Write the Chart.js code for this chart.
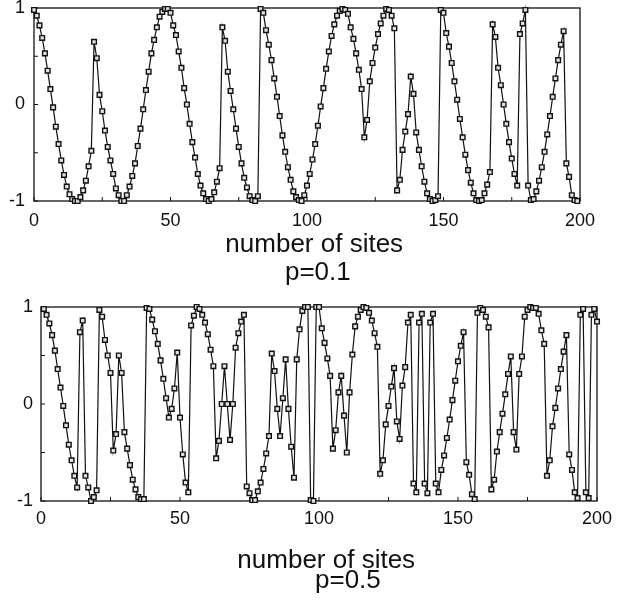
<!DOCTYPE html>
<html>
<head>
<meta charset="utf-8">
<script src="https://cdn.jsdelivr.net/npm/chart.js@4.4.1/dist/chart.umd.min.js"></script>
<style>
  html, body { margin: 0; padding: 0; background: #fff; }
  #wrap { position: relative; width: 625px; height: 605px; }
  canvas { position: absolute; left: 0; }
  #topChart { top: 0; }
  #bottomChart { top: 290px; }
</style>
</head>
<body>
<div id="wrap">
  <canvas id="topChart" width="625" height="290"></canvas>
  <canvas id="bottomChart" width="625" height="315"></canvas>
</div>
<script>
// axis marks
const xLabelTicks = [0, 50, 100, 150, 200];
const xMarks = [0, 25, 50, 75, 100, 125, 150, 175, 200];
const yLabelTicks = [-1, 0, 1];
const yMarks = [-1, -0.5, 0, 0.5, 1];

// p=0.1 panel, sites 0..199
const topFirstSite = 0;
const topValues = [
  0.98, 0.92, 0.82, 0.69, 0.53, 0.35, 0.16, -0.03, -0.23, -0.41,
  -0.58, -0.73, -0.85, -0.93, -0.98, -1.0, -1.0, -0.96, -0.89, -0.79,
  -0.64, -0.48, 0.65, 0.48, 0.10, -0.07, -0.27, -0.44, -0.58, -0.72,
  -0.87, -0.94, -1.0, -1.0, -0.94, -0.85, -0.74, -0.61, -0.43, -0.25,
  -0.05, 0.15, 0.34, 0.53, 0.67, 0.80, 0.91, 0.96, 0.99, 0.99,
  0.95, 0.82, 0.72, 0.55, 0.38, 0.17, 0.00, -0.20, -0.39, -0.55,
  -0.72, -0.84, -0.92, -0.98, -1.0, -0.98, -0.91, -0.80, -0.66, 0.80,
  0.66, 0.34, 0.14, -0.05, -0.25, -0.44, -0.61, -0.76, -0.86, -0.95,
  -0.99, -1.0, -0.95, 0.99, 0.95, 0.77, 0.62, 0.46, 0.27, 0.08,
  -0.12, -0.32, -0.49, -0.65, -0.78, -0.90, -0.96, -0.99, -1.0, -0.94,
  -0.84, -0.72, -0.57, -0.41, -0.22, -0.02, 0.17, 0.37, 0.55, 0.71,
  0.83, 0.92, 0.97, 0.99, 0.98, 0.94, 0.80, 0.68, 0.53, 0.36,
  0.16, -0.34, -0.16, 0.24, 0.43, 0.59, 0.73, 0.84, 0.92, 0.99,
  0.98, 0.92, 0.79, -0.89, -0.78, -0.47, -0.28, -0.10, 0.29, 0.11,
  -0.29, -0.47, -0.64, -0.80, -0.92, -0.98, -1.0, -0.99, -0.95, 0.98,
  0.95, 0.74, 0.60, 0.43, 0.24, 0.05, -0.15, -0.34, -0.52, -0.68,
  -0.81, -0.92, -0.99, -1.0, -0.99, -0.92, -0.83, -0.70, 0.83, 0.70,
  0.38, 0.20, 0.00, -0.20, -0.39, -0.56, -0.72, -0.84, 0.73, 0.84,
  0.98, -0.84, -0.99, -0.98, -0.90, -0.79, -0.65, -0.49, -0.31, -0.12,
  0.08, 0.27, 0.46, 0.62, 0.76, -0.61, -0.75, -0.94, -0.99, -1.0
];

// p=0.5 panel, sites 1..200
const bottomFirstSite = 1;
const bottomValues = [
  0.98, 0.92, 0.83, 0.71, 0.55, 0.36, 0.17, -0.02, -0.22, -0.42,
  -0.58, -0.74, -0.86, 0.74, 0.86, -0.74, -0.86, -1.0, -0.96, -0.89,
  0.97, 0.90, 0.66, 0.50, 0.32, -0.48, -0.31, 0.50, 0.32, -0.29,
  -0.46, -0.63, -0.78, -0.88, -0.96, -0.98, -0.98, 0.99, 0.98, 0.87,
  0.75, 0.62, 0.45, 0.26, 0.06, -0.14, -0.05, 0.16, 0.53, -0.14,
  -0.52, -0.81, -0.91, 0.81, 0.91, 1.0, 0.98, 0.92, 0.84, 0.72,
  0.56, 0.39, -0.56, -0.38, 0.00, 0.39, 0.00, -0.37, 0.00, 0.58,
  0.73, 0.85, 0.92, -0.85, -0.92, -0.99, -0.99, -0.90, -0.81, -0.67,
  -0.51, -0.33, 0.52, 0.34, -0.05, -0.33, 0.06, 0.46, -0.05, -0.44,
  -0.76, 0.46, 0.77, 0.96, 1.0, 1.0, -0.99, -1.0, 1.0, 1.0,
  0.78, 0.63, 0.47, 0.29, -0.46, -0.27, 0.12, 0.29, -0.12, -0.50,
  0.12, 0.51, 0.80, 0.90, 0.97, 1.0, 0.99, 0.94, 0.86, 0.73,
  0.59, -0.72, -0.58, -0.21, -0.02, 0.18, 0.37, -0.18, -0.36, 0.19,
  0.38, 0.84, 0.92, -0.82, -0.91, 0.84, 0.93, -0.82, -0.92, 0.84,
  0.93, -0.82, -0.91, -0.68, -0.53, -0.35, -0.16, 0.04, 0.24, 0.44,
  0.60, 0.74, -0.60, -0.73, -0.93, -0.98, 0.94, 0.99, 0.97, 0.90,
  0.79, -0.88, -0.78, -0.49, -0.29, -0.10, 0.10, 0.31, 0.49, -0.29,
  -0.47, 0.31, 0.49, 0.90, 0.97, 1.0, 0.99, 0.99, 0.93, 0.76,
  0.62, -0.74, -0.58, -0.23, -0.04, 0.16, 0.36, 0.54, 0.71, -0.52,
  -0.68, -0.91, -0.97, 0.92, 0.98, -0.91, -0.97, 0.92, 0.98, 0.85
];

const FONT = '"Liberation Sans", Arial, Helvetica, sans-serif';

// box round the plot plus the small inward ticks
const framePlugin = {
  id: 'frame',
  beforeDatasetsDraw(chart) {
    const { ctx, chartArea: a, scales: { x, y } } = chart;
    ctx.save();
    ctx.strokeStyle = '#111';
    ctx.lineWidth = 1.3;
    ctx.strokeRect(a.left, a.top, a.right - a.left, a.bottom - a.top);
    ctx.lineWidth = 1;
    ctx.beginPath();
    xMarks.forEach(v => {
      const px = x.getPixelForValue(v);
      ctx.moveTo(px, a.bottom);
      ctx.lineTo(px, a.bottom - 4);
    });
    yMarks.forEach(v => {
      const py = y.getPixelForValue(v);
      ctx.moveTo(a.left, py);
      ctx.lineTo(a.left + 4, py);
    });
    ctx.stroke();
    ctx.restore();
  }
};

function makePanel(id, firstSite, values, opts) {
  const points = values.map((v, i) => ({ x: firstSite + i, y: v }));
  return new Chart(document.getElementById(id), {
    type: 'line',
    data: {
      datasets: [{
        data: points,
        borderColor: '#111',
        borderWidth: 1.2,
        pointStyle: 'rect',
        pointRadius: 3.3,
        pointBorderWidth: 1.4,
        pointBorderColor: '#111',
        pointBackgroundColor: '#e2e2e2',
        tension: 0,
        clip: false
      }]
    },
    options: {
      responsive: false,
      animation: false,
      layout: { padding: { left: 0, right: opts.right, top: opts.top, bottom: 0 } },
      plugins: { legend: { display: false }, tooltip: { enabled: false } },
      scales: {
        x: {
          type: 'linear',
          min: 0,
          max: 200,
          afterBuildTicks: s => { s.ticks = xLabelTicks.map(v => ({ value: v })); },
          afterFit: s => { s.height = opts.xHeight; s.paddingLeft = 0; s.paddingRight = 0; },
          grid: { display: false, drawTicks: false },
          border: { display: false },
          ticks: { color: '#111', padding: opts.xPad, maxRotation: 0, font: { family: FONT, size: 18 } },
          title: {
            display: true,
            text: opts.title,
            color: '#111',
            padding: { top: 0, bottom: opts.titlePad },
            font: { family: FONT, size: 26, lineHeight: opts.titleLine }
          }
        },
        y: {
          min: -1,
          max: 1,
          afterBuildTicks: s => { s.ticks = yLabelTicks.map(v => ({ value: v })); },
          afterFit: s => { s.width = opts.yWidth; s.paddingTop = 0; s.paddingBottom = 0; },
          grid: { display: false, drawTicks: false },
          border: { display: false },
          ticks: { color: '#111', padding: opts.yPad, font: { family: FONT, size: 18 } }
        }
      }
    },
    plugins: [framePlugin]
  });
}

makePanel('topChart', topFirstSite, topValues, {
  right: 45, top: 8, xHeight: 89, yWidth: 34, xPad: 9, yPad: 9,
  title: ['  number of sites', '   p=0.1'], titlePad: 3, titleLine: '28px'
});

makePanel('bottomChart', bottomFirstSite, bottomValues, {
  right: 28, top: 17, xHeight: 104, yWidth: 41, xPad: 7, yPad: 8,
  title: ['  number of sites', '        p=0.5'], titlePad: 14, titleLine: '20px'
});
</script>
</body>
</html>
